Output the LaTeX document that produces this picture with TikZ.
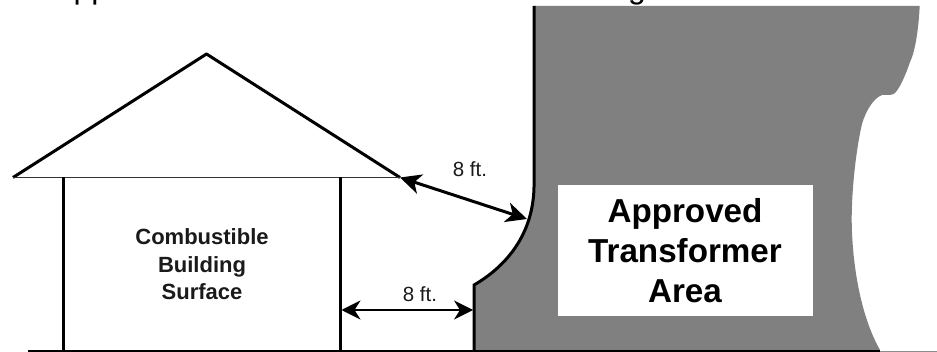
\documentclass[tikz,border=0pt]{standalone}
\usepackage{fontspec}
\setmainfont{Liberation Sans}
\usetikzlibrary{arrows.meta}
\definecolor{areagrey}{HTML}{808080}
\definecolor{ink}{HTML}{1A1A1A}
\tikzset{
  outline/.style={line width=3pt,black,line join=miter},
  wall/.style={line width=3pt,black},
  dimthick/.style={line width=3pt,black,{Stealth[length=21pt,width=20pt,inset=6pt]}-{Stealth[length=21pt,width=20pt,inset=6pt]}},
  dimthin/.style={line width=1.5pt,black,{Stealth[length=19pt,width=19pt,inset=6pt]}-{Stealth[length=19pt,width=19pt,inset=6pt]}},
  dimlabel/.style={inner sep=0pt,text=ink,font=\fontsize{20.5}{21}\selectfont},
  bldglabel/.style={inner sep=0pt,text=ink,align=center,font=\fontsize{22}{27.5}\selectfont\bfseries},
  arealabel/.style={fill=white,draw=none,inner sep=0pt,minimum width=255pt,minimum height=131pt,align=center,font=\fontsize{33.2}{40}\selectfont\bfseries},
  cuttext/.style={inner sep=0pt,anchor=base west,font=\fontsize{32}{32}\selectfont}
}
\begin{document}
\begin{tikzpicture}[x=1pt,y=-1pt]
\useasboundingbox (0,0) rectangle (937,352);
\fill[white] (0,0) rectangle (937,352);
% clipped heading, only its descenders fall in the picture
\begin{scope}
\clip (0,0) rectangle (937,352);
\node[cuttext] (headA) at (52,-1) {Approved};
\node[cuttext] (headB) at (628,-1) {g};
\end{scope}
% grey area
\fill[areagrey] (534,6) -- (919.7,6)
  .. controls (918.5,30) and (915,52) .. (910,62)
  .. controls (906,74) and (900,88) .. (895,93)
  .. controls (893,95) and (890,95) .. (882,95)
  .. controls (874,98) and (866,110) .. (862,124)
  .. controls (857,145) and (851.7,185) .. (851.7,220)
  .. controls (852,262) and (860,315) .. (880,350)
  -- (474,350) -- (474,285)
  .. controls (500,270) and (533,240) .. (534,187) -- cycle;
% outline of the area
\coordinate (edgeTop) at (534,6);
\coordinate (edgeCurve) at (534,187);
\coordinate (edgeStep) at (474,285);
\coordinate (edgeFoot) at (474,350.7);
\draw[outline] (edgeTop) -- (edgeCurve) .. controls (533,240) and (500,270) .. (edgeStep) -- (edgeFoot);
% ground
\coordinate (groundL) at (28,350.7);
\coordinate (groundM) at (880,350.7);
\coordinate (groundR) at (937,351.5);
\draw[line width=0.7pt,black!45] (groundM |- groundR) -- (groundR);
\draw[line width=2.2pt,black] (groundL) -- (groundM);
% house
\coordinate (roofL) at (13,177.5);
\coordinate (roofT) at (206.5,54);
\coordinate (roofR) at (400,177.5);
\draw[line width=3pt,black,line join=round] (roofL) -- (roofT) -- (roofR);
\draw[line width=1.5pt,black!80] (roofL) -- (roofR);
\coordinate (wallAt) at (63.5,177.5);
\coordinate (wallAb) at (63.5,350.7);
\coordinate (wallBt) at (340,177.5);
\coordinate (wallBb) at (340,350.7);
\draw[wall] (wallAt) -- (wallAb);
\draw[wall] (wallBt) -- (wallBb);
% transformer box and labels
\node[arealabel] (area) at (685,250.5) {Approved\\Transformer\\Area};
\node[bldglabel] (bldg) at (202,264.5) {Combustible\\Building\\Surface};
% dimensions
\coordinate (dimAs) at (400,177.5);
\coordinate (dimAe) at (527,219);
\draw[dimthick] (dimAs) -- (dimAe);
\coordinate (dimBs) at (341.5,310);
\coordinate (dimBe) at (473,310);
\draw[dimthin] (dimBs) -- (dimBe);
\node[dimlabel] (lblA) at (470,169) {8 ft.};
\node[dimlabel] (lblB) at (420,294) {8 ft.};
\end{tikzpicture}
\end{document}
